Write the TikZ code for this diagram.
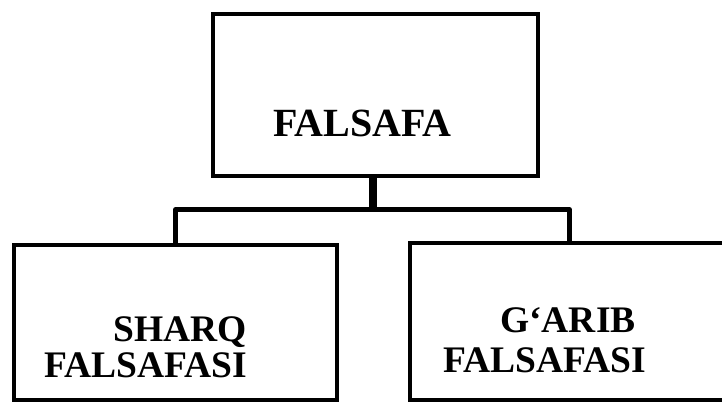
\documentclass[tikz,border=0pt]{standalone}
\usepackage{fontspec}
\setmainfont{Liberation Serif}
\usepackage{tikz}
\tikzset{box/.style={draw, rectangle, line width=4.5pt, inner sep=0pt},
  link/.style={line width=4.5pt, line join=round},
  lbl/.style={anchor=base west, inner sep=0pt, font=\bfseries\fontsize{37.5}{40}\selectfont}}

\begin{document}
\begin{tikzpicture}[x=1pt, y=-1pt]
\useasboundingbox (0,0) rectangle (722,403);
\node[box, minimum width=325pt, minimum height=162pt] (falsafa) at (375.5,95) {};
\node[box, minimum width=323pt, minimum height=155pt] (sharq) at (175.5,322.5) {};
\node[box, minimum width=319pt, minimum height=157pt] (garib) at (569.5,321.5) {};
\coordinate (split) at (372.5,209.5);

\node[lbl, font=\bfseries\fontsize{40}{42}\selectfont] (t-falsafa) at (273,137) {FALSAFA};
\node[lbl] (t-sharq) at (113,341) {SHARQ};
\node[lbl] (t-sharq-2) at (44,377) {FALSAFASI};
\node[lbl] (t-garib) at (500,332) {G‘ARIB};
\node[lbl] (t-garib-2) at (443,372) {FALSAFASI};

\draw[link, line width=8pt] (falsafa.south) ++(-3,0) -- (split);
\draw[link] (sharq.north) |- (split) -| (garib.north);
\end{tikzpicture}
\end{document}
